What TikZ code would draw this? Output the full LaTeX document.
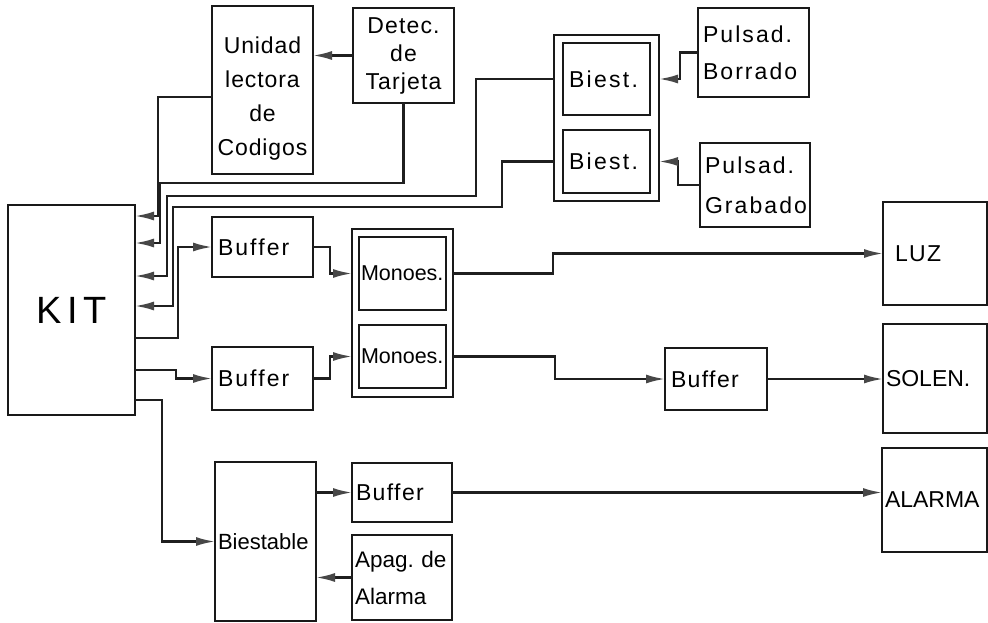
\documentclass[tikz,border=0pt]{standalone}
\usepackage{fontspec}
\setmainfont{Liberation Sans}
\usetikzlibrary{arrows.meta}
\newcommand\lsfont[3]{\fontsize{#1}{#2}\selectfont\addfontfeature{LetterSpace=#3}}
\tikzset{
 blk/.style={draw=black!90, line width=2.6pt, inner xsep=6pt, inner ysep=0pt, outer sep=0pt, align=left, font=\lsfont{23}{27}{0}},
 wire/.style={draw=black!88, line width=2.2pt, line join=miter},
 arr/.style={wire, -{Latex[length=19pt,width=9pt,fill=black!72,color=black!72]}},
}
\newcommand\blk[7][]{%
 \pgfmathsetmacro\blkW{#5-#3}%
 \pgfmathsetmacro\blkH{#6-#4}%
 \pgfmathsetmacro\blkX{(#3+#5)/2}%
 \pgfmathsetmacro\blkY{(#4+#6)/2}%
 \pgfmathsetmacro\blkT{#5-#3-12}%
 \node[blk,minimum width=\blkW pt,minimum height=\blkH pt,text width=\blkT pt,#1] (#2) at (\blkX,\blkY) {#7};}
\begin{document}
\begin{tikzpicture}[x=1pt,y=-1pt]
\fill[white] (0,0) rectangle (988,623);
\useasboundingbox (0,0) rectangle (988,623);
% blocks
\blk[font=\lsfont{38}{42}{14}, align=center]{kit}{8}{205}{135}{415}{KIT}
\blk[align=center, font=\lsfont{23}{34}{4}, inner xsep=2pt, text width=97pt]{uni}{212}{6}{313}{174}{\rule{0pt}{33pt}Unidad\\lectora\\de\\Codigos}
\blk[align=center, font=\lsfont{23}{28}{5}, inner xsep=2pt, text width=97pt]{det}{353}{8}{454}{103}{Detec.\\de\\Tarjeta}
\blk{bg}{554}{35}{659}{201}{}
\blk[font=\lsfont{23}{27}{10}]{bi1}{563}{43}{650}{115}{Biest.}
\blk[font=\lsfont{23}{27}{10}]{bi2}{563}{130}{650}{193}{Biest.}
\blk[font=\lsfont{23}{37}{9}, inner xsep=5pt, text width=101pt]{pb}{698}{8}{809}{97}{Pulsad.\\Borrado}
\blk[font=\lsfont{23}{40}{9}, inner xsep=5pt, text width=100pt]{pg}{700}{143}{810}{227}{Pulsad.\\Grabado}
\blk[font=\lsfont{23}{27}{9}]{buf1}{212}{217}{313}{277}{Buffer}
\blk{mg}{352}{229}{453}{397}{}
\blk[inner xsep=2pt,text width=83pt,font=\lsfont{21.5}{26}{0}]{mono1}{359}{237}{446}{310}{Monoes.}
\blk[inner xsep=2pt,text width=83pt,font=\lsfont{21.5}{26}{0}]{mono2}{359}{325}{446}{388}{Monoes.}
\blk[font=\lsfont{23}{27}{9}]{buf2}{212}{347}{313}{410}{Buffer}
\blk[inner xsep=12pt,text width=80pt,font=\lsfont{23}{27}{6}]{luz}{883}{202}{987}{305}{LUZ}
\blk[inner xsep=3pt,text width=98pt]{sol}{883}{324}{987}{433}{SOLEN.}
\blk[inner xsep=3pt,text width=99pt]{alm}{882}{448}{987}{552}{ALARMA}
\blk[font=\lsfont{23}{27}{6}]{buf3}{665}{348}{767}{410}{Buffer}
\blk[inner xsep=3pt,text width=95pt,font=\lsfont{22}{26}{0}]{bst}{215}{462}{316}{621}{Biestable}
\blk[inner xsep=4pt,text width=92pt,font=\lsfont{23}{27}{6}]{buf4}{352}{463}{452}{522}{Buffer}
\blk[inner xsep=3pt,text width=94pt, font=\lsfont{22.5}{37}{0}]{apag}{352}{535}{452}{620}{Apag.\ de\\Alarma}
% connectors
\draw[arr] (det.west) -- (det.west -| uni.east);
\draw[arr] ([yshift=-7pt]uni.west) -| (158,216) -- (158,216 -| kit.east);
\draw[arr] (det.south) |- (160,183) -- (160,243) -- (160,243 -| kit.east);
\draw[arr] (bi1.west -| bg.west) -| (476,196) -| (167,276) -- (167,276 -| kit.east);
\draw[arr] (bi2.west -| bg.west) -| (502,207) -| (173,306) -- (173,306 -| kit.east);
\draw[arr] (kit.east |- 0,338) -- (178,338) |- (buf1.west);
\draw[arr] (kit.east |- 0,370) -- (176,370) |- (buf2.west);
\draw[arr] (kit.east |- 0,400) -- (162,400) |- (bst.west);
\draw[arr] (buf1.east) -- ++(17,0) |- (mono1.west -| mg.west);
\draw[arr] (buf2.east) -- ++(17,0) |- (mono2.west -| mg.west);
\draw[arr] (mono1.east -| mg.east) -- ++(100,0) |- (luz.west);
\draw[arr] (mono2.east -| mg.east) -- ++(102,0) |- (buf3.west);
\draw[arr] (buf3.east) -- (buf3.east -| sol.west);
\draw[arr] (buf4.west -| bst.east) -- (buf4.west);
\draw[arr] (buf4.east) -- (buf4.east -| alm.west);
\draw[arr] (apag.west) -- (apag.west -| bst.east);
\draw[arr] (pb.west) -- ++(-18,0) |- (bi1.east -| bg.east);
\draw[arr] (pg.west) -- ++(-22,0) |- (bi2.east -| bg.east);
\end{tikzpicture}
\end{document}
